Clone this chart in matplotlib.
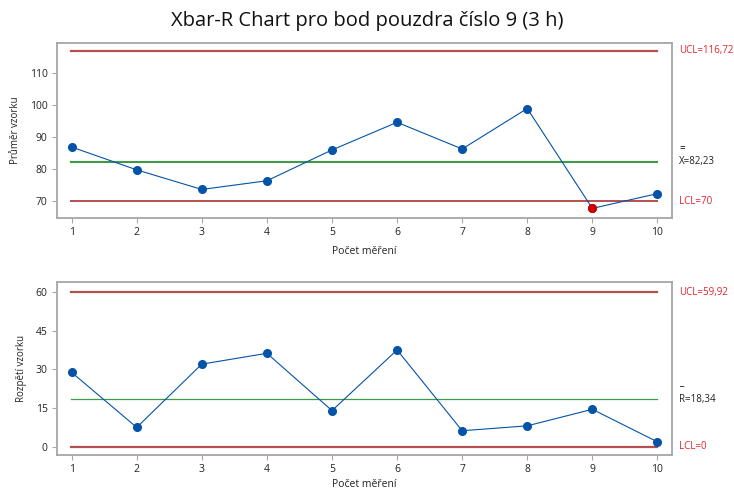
import matplotlib
matplotlib.use("Agg")
import matplotlib.pyplot as plt
import numpy as np

plt.rcParams['font.family'] = ['Open Sans', 'DejaVu Sans']

# data
samples = [1, 2, 3, 4, 5, 6, 7, 8, 9, 10]
xbar = [86.8, 79.7, 73.6, 76.3, 85.9, 94.5, 86.2, 98.8, 67.7, 72.3]
rng = [28.8, 7.5, 32.0, 36.2, 14.0, 37.5, 6.2, 8.1, 14.5, 1.9]
xbar_ucl, xbar_cl, xbar_lcl = 116.72, 82.23, 70.0
r_ucl, r_cl, r_lcl = 59.92, 18.34, 0.0
xbar_out = [9]  # sample flagged red

BLUE = '#0553a8'
LIMIT = '#b5504e'
GREEN = '#3f9a48'
RED_TXT = '#e2242c'
SPINE = '#a6a6a6'

fig = plt.figure(figsize=(7.34, 4.92), dpi=100)
ax1 = fig.add_axes([0.0772, 0.5575, 0.838, 0.3545])
ax2 = fig.add_axes([0.0772, 0.0752, 0.838, 0.351])

def style(ax):
    for s in ax.spines.values():
        s.set_color(SPINE)
        s.set_linewidth(1.3)
    ax.tick_params(direction='out', length=3.5, width=0.8, color=SPINE,
                   labelsize=7.5, labelcolor='#222222', pad=3)
    ax.set_xticks(samples)
    ax.set_xlim(0.77, 10.22)

# Xbar chart
ax1.axhline(xbar_ucl, xmin=0.024, xmax=0.976, color=LIMIT, lw=1.6)
ax1.axhline(xbar_lcl, xmin=0.024, xmax=0.976, color=LIMIT, lw=1.4)
ax1.axhline(xbar_cl, xmin=0.024, xmax=0.976, color=GREEN, lw=1.5)
ax1.plot(samples, xbar, color=BLUE, lw=0.8, marker='o', ms=5.5, zorder=3)
for s in xbar_out:
    ax1.plot(s, xbar[s - 1], 'o', color='#d40000', ms=5.5, zorder=4)
ax1.set_ylim(64.8, 119.1)
ax1.set_yticks([70, 80, 90, 100, 110])
style(ax1)
ax1.set_ylabel('Průměr vzorku', fontsize=7, color='#222222', labelpad=6)
ax1.set_xlabel('Počet měření', fontsize=7.5, color='#222222', labelpad=6)

tr1 = ax1.get_yaxis_transform()
ax1.text(1.012, xbar_ucl, 'UCL=116,72', transform=tr1,
         color=RED_TXT, fontsize=7, va='center')
ax1.text(1.012, xbar_cl + 4.2, '=', transform=tr1,
         color='black', fontsize=7, va='center')
ax1.text(1.012, xbar_cl, 'X=82,23', transform=tr1,
         color='#222222', fontsize=7, va='center')
ax1.text(1.012, xbar_lcl, 'LCL=70', transform=tr1,
         color=RED_TXT, fontsize=7, va='center')

# R chart
ax2.axhline(r_ucl, xmin=0.024, xmax=0.976, color=LIMIT, lw=1.6)
ax2.axhline(r_lcl, xmin=0.024, xmax=0.976, color=LIMIT, lw=1.6)
ax2.axhline(r_cl, xmin=0.024, xmax=0.976, color=GREEN, lw=0.9)
ax2.plot(samples, rng, color=BLUE, lw=0.8, marker='o', ms=5.5, zorder=3)
ax2.set_ylim(-3.2, 63.7)
ax2.set_yticks([0, 15, 30, 45, 60])
style(ax2)
ax2.set_ylabel('Rozpětí vzorku', fontsize=7, color='#222222', labelpad=6)
ax2.set_xlabel('Počet měření', fontsize=7.5, color='#222222', labelpad=3)

tr2 = ax2.get_yaxis_transform()
ax2.text(1.012, r_ucl, 'UCL=59,92', transform=tr2,
         color=RED_TXT, fontsize=7, va='center')
ax2.text(1.012, r_cl + 6.5, '_', transform=tr2,
         color='black', fontsize=7, va='center')
ax2.text(1.012, r_cl, 'R=18,34', transform=tr2,
         color='#222222', fontsize=7, va='center')
ax2.text(1.012, r_lcl, 'LCL=0', transform=tr2,
         color=RED_TXT, fontsize=7, va='center')

fig.text(0.5, 0.958, 'Xbar-R Chart pro bod pouzdra číslo 9 (3 h)',
         ha='center', va='center', fontsize=14.5, color='#111111')

fig.savefig('out.png', dpi=100)
